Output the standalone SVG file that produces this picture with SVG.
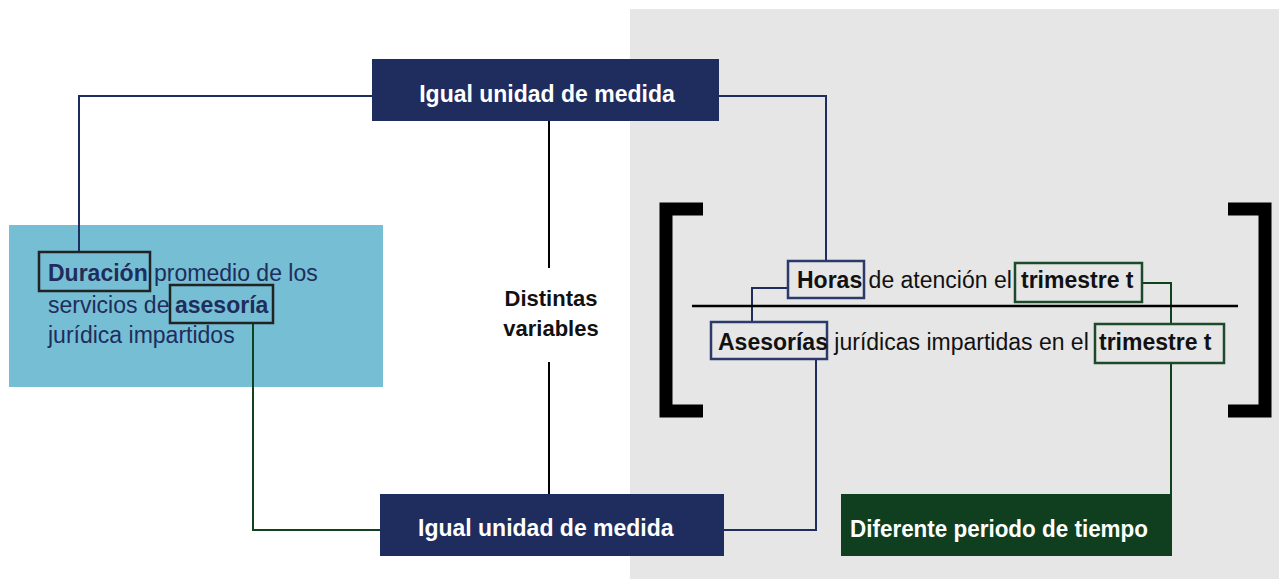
<svg xmlns="http://www.w3.org/2000/svg" width="1279" height="579" viewBox="0 0 1279 579">
<style>
text{font-family:"Liberation Sans",Arial,sans-serif;font-size:23px}
.b{font-weight:bold}
.w{fill:#ffffff;font-weight:bold}
.nv{fill:#1f2d5c}
.bk{fill:#111111}
.navy{stroke:#1f2d5e;stroke-width:2;fill:none}
.green{stroke:#11421f;stroke-width:2;fill:none}
.blk{stroke:#000;stroke-width:2;fill:none}
.boxL{fill:none;stroke:#222;stroke-width:2.5}
.boxN{fill:none;stroke:#2b3a6b;stroke-width:2.5}
.boxG{fill:none;stroke:#1d4a2a;stroke-width:2.5}
</style>
<rect x="0" y="0" width="1279" height="579" fill="#ffffff"/>
<rect x="630" y="9" width="649" height="570" fill="#e6e6e6"/>
<g id="definition">
<rect x="9" y="225" width="374" height="162" fill="#75bed4"/>
<rect class="boxL" x="39" y="252" width="111" height="39"/>
<rect class="boxL" x="170" y="285" width="103" height="38"/>
<text x="48" y="281" class="nv"><tspan class="b">Duración</tspan> promedio de los</text>
<text x="48" y="313" class="nv">servicios de <tspan class="b" x="175">asesoría</tspan></text>
<text x="48" y="343" class="nv">jurídica impartidos</text>
</g>
<g id="connectors">
<polyline class="navy" points="372,96 79,96 79,251"/>
<polyline class="navy" points="719,96 826,96 826,261"/>
<polyline class="navy" points="788,288 752,288 752,322"/>
<polyline class="navy" points="816,359 816,530 724,530"/>
<polyline class="green" points="253,324 253,530 380,530"/>
<polyline class="green" points="1142,283 1171,283 1171,324"/>
<line class="green" x1="1171" y1="363" x2="1171" y2="494"/>
<line class="blk" x1="549" y1="121" x2="549" y2="268"/>
<line class="blk" x1="549" y1="362" x2="549" y2="494"/>
</g>
<g id="top-box">
<rect x="372" y="59" width="347" height="62" fill="#1f2d5e"/>
<text x="547" y="102" class="w" text-anchor="middle">Igual unidad de medida</text>
</g>
<g id="bottom-box">
<rect x="380" y="494" width="344" height="62" fill="#1f2d5e"/>
<text x="418" y="536" class="w">Igual unidad de medida</text>
</g>
<g id="green-box">
<rect x="841" y="494" width="331" height="62" fill="#0f3f1f"/>
<text x="850" y="537" class="w" textLength="298" lengthAdjust="spacingAndGlyphs">Diferente periodo de tiempo</text>
</g>
<g id="distintas">
<text x="551" y="306" class="b bk" text-anchor="middle" style="font-size:22px">Distintas</text>
<text x="551" y="336" class="b bk" text-anchor="middle" style="font-size:22px">variables</text>
</g>
<g id="formula">
<path d="M703,209 H666 V411 H703" fill="none" stroke="#000" stroke-width="13"/>
<path d="M1228,209 H1265 V411 H1228" fill="none" stroke="#000" stroke-width="13"/>
<line x1="692" y1="306" x2="1238" y2="306" stroke="#000" stroke-width="2.5"/>
<rect class="boxN" x="788" y="261" width="76" height="37"/>
<rect class="boxG" x="1015" y="263" width="127" height="39"/>
<rect class="boxN" x="711" y="322" width="116" height="37"/>
<rect class="boxG" x="1095" y="324" width="129" height="39"/>
<text x="797" y="288" class="bk"><tspan class="b">Horas</tspan> de atención el <tspan class="b" x="1021">trimestre t</tspan></text>
<text x="718" y="350" class="bk"><tspan class="b">Asesorías</tspan> jurídicas impartidas en el <tspan class="b" x="1099">trimestre t</tspan></text>
</g>
</svg>
